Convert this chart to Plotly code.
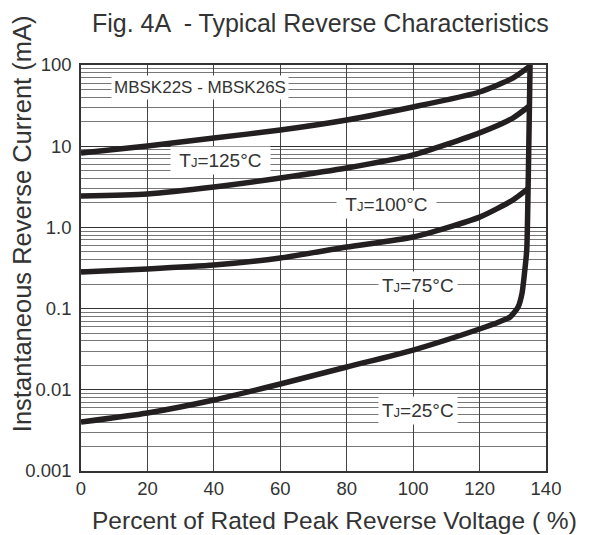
import math
import plotly.graph_objects as go

# ---- data (percent of rated voltage, mA) ----
x_125 = [0, 20, 40, 60, 80, 100, 120, 130, 135.2]
y_125 = [8.25, 10.06, 12.6, 15.8, 21.0, 30.4, 46.5, 69.0, 97.0]

x_100 = [0, 20, 40, 60, 80, 100, 120, 130, 134.9]
y_100 = [2.44, 2.58, 3.14, 4.06, 5.39, 7.80, 14.6, 22.2, 31.0]

x_75 = [0, 20, 40, 60, 80, 100, 120, 130, 134.6]
y_75 = [0.282, 0.308, 0.344, 0.420, 0.574, 0.762, 1.34, 2.17, 3.0]

x_25 = [0, 20, 40, 60, 80, 100, 120, 126, 129.2, 131.6, 132.8, 133.4, 134.2, 134.6, 134.9, 135.2]
y_25 = [0.00401, 0.00518, 0.00748, 0.01178, 0.0191, 0.0309, 0.0561, 0.069, 0.0789,
        0.1047, 0.156, 0.245, 0.527, 2.89, 15.8, 100.0]

x_ticks = [0, 20, 40, 60, 80, 100, 120, 140]
y_ticks = [0.001, 0.01, 0.1, 1, 10, 100]
y_ticktext = ["0.001", "0.01", "0.1", "1.0", "10", "100"]

labels = ["&nbsp;T<span style='font-size:13px'>J</span>=125°C&nbsp;",
          "&nbsp;T<span style='font-size:13px'>J</span>=100°C&nbsp;",
          "T<span style='font-size:13px'>J</span>=75°C",
          "T<span style='font-size:13px'>J</span>=25°C"]
label_x = [42, 92, 101.5, 101.5]
label_y = [6.76, 1.94, 0.195, 0.00564]

minor_vals = [m * 10 ** e for e in range(-3, 2) for m in range(2, 10)]

FONT = "Liberation Sans, Arial, sans-serif"
TXT = "#333333"
CURVE = "#231f20"

fig = go.Figure()
for xs, ys in [(x_125, y_125), (x_100, y_100), (x_75, y_75), (x_25, y_25)]:
    fig.add_trace(go.Scatter(x=xs, y=ys, mode="lines",
                             line=dict(color=CURVE, width=5.5, shape="spline", smoothing=0.6),
                             showlegend=False, hoverinfo="skip"))

# annotations on a log axis take log10 positions
for t, lx, ly in zip(labels, label_x, label_y):
    fig.add_annotation(x=lx, y=math.log10(ly), yref="y", xref="x", text=t, showarrow=False,
                       font=dict(family=FONT, size=19, color=TXT),
                       bgcolor="white", borderpad=3)

fig.add_annotation(x=35.9, y=math.log10(53.5), xref="x", yref="y", text="MBSK22S - MBSK26S",
                   showarrow=False, font=dict(family=FONT, size=17, color=TXT),
                   bgcolor="white", borderpad=2)

fig.add_annotation(x=0.516, y=1.0, xref="paper", yref="paper", yshift=42,
                   xanchor="center", yanchor="middle",
                   text="Fig. 4A  - Typical Reverse Characteristics", showarrow=False,
                   font=dict(family=FONT, size=25, color=TXT))
fig.add_annotation(x=0.546, y=0, xref="paper", yref="paper", yshift=-49,
                   xanchor="center", yanchor="middle",
                   text="Percent of Rated Peak Reverse Voltage ( %)", showarrow=False,
                   font=dict(family=FONT, size=24.5, color=TXT))
fig.add_annotation(x=0, y=0.608, xref="paper", yref="paper", xshift=-59,
                   xanchor="center", yanchor="middle",
                   text="Instantaneous Reverse Current (mA)", showarrow=False,
                   textangle=-90, font=dict(family=FONT, size=25.5, color=TXT))

fig.update_xaxes(range=[0, 140], tickvals=x_ticks, showgrid=True, gridcolor="#444444",
                 gridwidth=1, zeroline=False, showline=True, linecolor="#333333",
                 linewidth=1.5, mirror=True, ticks="", ticklabelstandoff=0,
                 automargin=False,
                 tickfont=dict(family=FONT, size=18.5, color=TXT))
fig.update_yaxes(type="log", range=[-3, 2], tickvals=y_ticks, ticktext=y_ticktext,
                 showgrid=True, gridcolor="#333333", gridwidth=1,
                 minor=dict(tickmode="array", tickvals=minor_vals, showgrid=True,
                            gridcolor="#777777", gridwidth=1, ticks=""),
                 zeroline=False, showline=True, linecolor="#333333", linewidth=1.5,
                 mirror=True, ticks="", ticklabelstandoff=4, automargin=False,
                 tickfont=dict(family=FONT, size=18.5, color=TXT))

# the page body adds an 8px offset, so the figure is sized to land on the window
fig.update_layout(width=583, height=527, margin=dict(l=73, r=45, t=57, b=64),
                  paper_bgcolor="white", plot_bgcolor="white")

fig.write_html("out.html")
